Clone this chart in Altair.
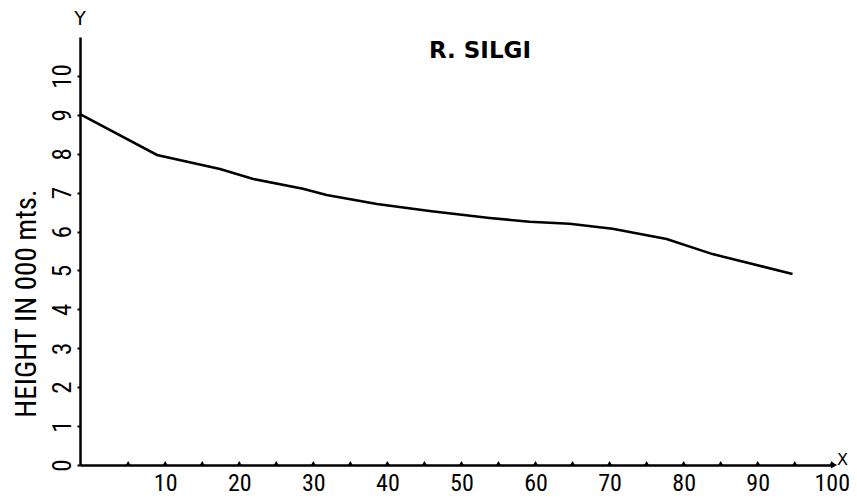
import altair as alt
import pandas as pd

# distance (km) along river and height (in 000 m)
distance = [-1.5, 8.9, 17.4, 21.9, 28.6, 31.8, 38.6, 45.7, 53.8, 59.2, 64.6, 70.4, 77.7, 83.9, 94.7]
height = [9.02, 7.97, 7.61, 7.35, 7.10, 6.94, 6.71, 6.53, 6.35, 6.25, 6.20, 6.07, 5.81, 5.42, 4.91]

x_labels = list(range(10, 101, 10))
x_ticks = list(range(5, 101, 5))
y_ticks = list(range(0, 11))

title_text = "R. SILGI"
y_title = "HEIGHT IN 000 mts."

FONT_N = "Roboto Condensed"

df = pd.DataFrame({"d": distance, "h": height})

xscale = alt.Scale(domain=[-1.5, 100.3], nice=False, zero=False)
yscale = alt.Scale(domain=[0, 11], nice=False)

x_axis = alt.Axis(
    values=x_labels,
    title=None, grid=False, ticks=False,
    domainColor="black", domainWidth=2.5,
    labelFont=FONT_N, labelFontSize=24, labelColor="black",
    labelPadding=6, labelFlush=False, labelOverlap=False,
)
y_axis = alt.Axis(
    values=y_ticks, title=y_title, grid=False,
    domainColor="black", domainWidth=2.5,
    tickColor="black", tickSize=3, tickWidth=2,
    labelFont=FONT_N, labelFontSize=25, labelColor="black",
    labelAngle=270, labelAlign="center", labelBaseline="alphabetic",
    labelPadding=7, labelFlush=False, labelOverlap=False,
    titleFont=FONT_N, titleFontSize=29, titleFontWeight="normal", titleColor="black",
    titleAngle=270, titleAlign="center", titleBaseline="alphabetic",
    titleX=-45, titleY=266,
)

line = alt.Chart(df).mark_line(color="black", strokeWidth=2.6).encode(
    x=alt.X("d:Q", scale=xscale, axis=x_axis),
    y=alt.Y("h:Q", scale=yscale, axis=y_axis),
)

tick_df = pd.DataFrame({"d": x_ticks, "h": [0] * len(x_ticks)})
bumps = alt.Chart(tick_df).mark_point(
    shape="triangle-up", filled=True, color="black", size=22, opacity=1, yOffset=-2
).encode(x=alt.X("d:Q", scale=xscale), y=alt.Y("h:Q", scale=yscale))

arrow_df = pd.DataFrame({"d": [100.3], "h": [0]})
arrow = alt.Chart(arrow_df).mark_point(
    shape="triangle-right", filled=True, color="black", size=50, opacity=1
).encode(x=alt.X("d:Q", scale=xscale), y=alt.Y("h:Q", scale=yscale))

ann_df = pd.DataFrame({
    "d": [-1.5, 100.7, 52.5],
    "h": [11.45, 0.14, 10.64],
    "t": ["Y", "X", title_text],
})
ylab = alt.Chart(ann_df.iloc[[0]]).mark_text(
    font="DejaVu Sans", fontSize=19, color="black", baseline="middle", align="center"
).encode(x=alt.X("d:Q", scale=xscale), y=alt.Y("h:Q", scale=yscale), text="t:N")
xlab = alt.Chart(ann_df.iloc[[1]]).mark_text(
    font="DejaVu Sans", fontSize=16, color="black", baseline="middle", align="left"
).encode(x=alt.X("d:Q", scale=xscale), y=alt.Y("h:Q", scale=yscale), text="t:N")
tlab = alt.Chart(ann_df.iloc[[2]]).mark_text(
    font="DejaVu Sans", fontSize=23, fontWeight="bold", color="black", baseline="middle", align="center"
).encode(x=alt.X("d:Q", scale=xscale), y=alt.Y("h:Q", scale=yscale), text="t:N")

chart = alt.layer(line, bumps, arrow, ylab, xlab, tlab).properties(
    width=754, height=428,
    padding={"left": 72, "top": 29, "right": 15, "bottom": 34},
    autosize=alt.AutoSizeParams(type="none"),
).configure_view(stroke=None, strokeWidth=0)

chart.save("out.html", embed_options={"renderer": "svg", "actions": False})
